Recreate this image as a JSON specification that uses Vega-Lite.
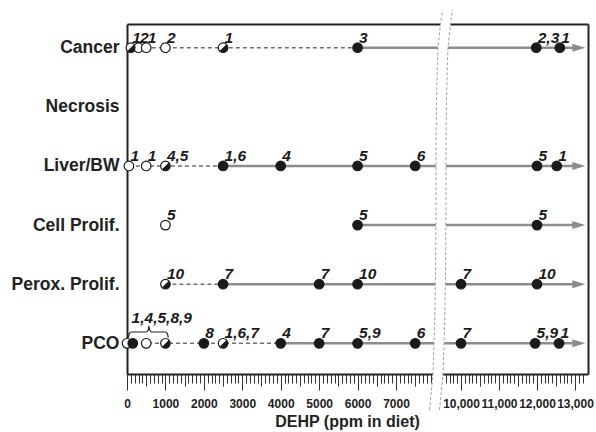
{
  "$schema": "https://vega.github.io/schema/vega-lite/v6.json",
  "width": 461,
  "height": 350,
  "autosize": {"type": "none"},
  "padding": {"left": 127, "top": 24, "right": 8, "bottom": 58},
  "background": "white",
  "config": {"view": {"stroke": null}, "font": "Liberation Sans"},
  "datasets": {
    "points": [
      {"cat": "Cancer", "row": 5, "dose": 100, "type": "half", "label": "1"},
      {"cat": "Cancer", "row": 5, "dose": 300, "type": "open", "label": "2"},
      {"cat": "Cancer", "row": 5, "dose": 500, "type": "open", "label": "1"},
      {"cat": "Cancer", "row": 5, "dose": 1000, "type": "open", "label": "2"},
      {"cat": "Cancer", "row": 5, "dose": 2500, "type": "half", "label": "1"},
      {"cat": "Cancer", "row": 5, "dose": 6000, "type": "filled", "label": "3"},
      {"cat": "Cancer", "row": 5, "dose": 11980, "type": "filled", "label": "2,3"},
      {"cat": "Cancer", "row": 5, "dose": 12600, "type": "filled", "label": "1"},
      {"cat": "Liver/BW", "row": 3, "dose": 50, "type": "open", "label": "1"},
      {"cat": "Liver/BW", "row": 3, "dose": 500, "type": "open", "label": "1"},
      {"cat": "Liver/BW", "row": 3, "dose": 1000, "type": "half", "label": "4,5"},
      {"cat": "Liver/BW", "row": 3, "dose": 2500, "type": "filled", "label": "1,6"},
      {"cat": "Liver/BW", "row": 3, "dose": 4000, "type": "filled", "label": "4"},
      {"cat": "Liver/BW", "row": 3, "dose": 6000, "type": "filled", "label": "5"},
      {"cat": "Liver/BW", "row": 3, "dose": 7500, "type": "filled", "label": "6"},
      {"cat": "Liver/BW", "row": 3, "dose": 12000, "type": "filled", "label": "5"},
      {"cat": "Liver/BW", "row": 3, "dose": 12520, "type": "filled", "label": "1"},
      {"cat": "Cell Prolif.", "row": 2, "dose": 1000, "type": "open", "label": "5"},
      {"cat": "Cell Prolif.", "row": 2, "dose": 6000, "type": "filled", "label": "5"},
      {"cat": "Cell Prolif.", "row": 2, "dose": 12000, "type": "filled", "label": "5"},
      {"cat": "Perox. Prolif.", "row": 1, "dose": 1000, "type": "half", "label": "10"},
      {"cat": "Perox. Prolif.", "row": 1, "dose": 2500, "type": "filled", "label": "7"},
      {"cat": "Perox. Prolif.", "row": 1, "dose": 5000, "type": "filled", "label": "7"},
      {"cat": "Perox. Prolif.", "row": 1, "dose": 6000, "type": "filled", "label": "10"},
      {"cat": "Perox. Prolif.", "row": 1, "dose": 10000, "type": "filled", "label": "7"},
      {"cat": "Perox. Prolif.", "row": 1, "dose": 12000, "type": "filled", "label": "10"},
      {"cat": "PCO", "row": 0, "dose": 0, "type": "open", "label": ""},
      {"cat": "PCO", "row": 0, "dose": 150, "type": "filled", "label": ""},
      {"cat": "PCO", "row": 0, "dose": 500, "type": "open", "label": ""},
      {"cat": "PCO", "row": 0, "dose": 1000, "type": "half", "label": ""},
      {"cat": "PCO", "row": 0, "dose": 2000, "type": "filled", "label": "8"},
      {"cat": "PCO", "row": 0, "dose": 2500, "type": "half", "label": "1,6,7"},
      {"cat": "PCO", "row": 0, "dose": 4000, "type": "filled", "label": "4"},
      {"cat": "PCO", "row": 0, "dose": 5000, "type": "filled", "label": "7"},
      {"cat": "PCO", "row": 0, "dose": 6000, "type": "filled", "label": "5,9"},
      {"cat": "PCO", "row": 0, "dose": 7500, "type": "filled", "label": "6"},
      {"cat": "PCO", "row": 0, "dose": 10000, "type": "filled", "label": "7"},
      {"cat": "PCO", "row": 0, "dose": 11950, "type": "filled", "label": "5,9"},
      {"cat": "PCO", "row": 0, "dose": 12580, "type": "filled", "label": "1"}
    ],
    "segments": [
      {"cat": "Cancer", "row": 5, "style": "dashed", "dose": 100},
      {"cat": "Cancer", "row": 5, "style": "dashed", "dose": 6000},
      {"cat": "Cancer", "row": 5, "style": "solid", "dose": 6000},
      {"cat": "Cancer", "row": 5, "style": "solid", "dose": 13100},
      {"cat": "Liver/BW", "row": 3, "style": "dashed", "dose": 50},
      {"cat": "Liver/BW", "row": 3, "style": "dashed", "dose": 2500},
      {"cat": "Liver/BW", "row": 3, "style": "solid", "dose": 2500},
      {"cat": "Liver/BW", "row": 3, "style": "solid", "dose": 13100},
      {"cat": "Cell Prolif.", "row": 2, "style": "solid", "dose": 6000},
      {"cat": "Cell Prolif.", "row": 2, "style": "solid", "dose": 13100},
      {"cat": "Perox. Prolif.", "row": 1, "style": "dashed", "dose": 1000},
      {"cat": "Perox. Prolif.", "row": 1, "style": "dashed", "dose": 2500},
      {"cat": "Perox. Prolif.", "row": 1, "style": "solid", "dose": 2500},
      {"cat": "Perox. Prolif.", "row": 1, "style": "solid", "dose": 13100},
      {"cat": "PCO", "row": 0, "style": "dashed", "dose": 0},
      {"cat": "PCO", "row": 0, "style": "dashed", "dose": 4000},
      {"cat": "PCO", "row": 0, "style": "solid", "dose": 4000},
      {"cat": "PCO", "row": 0, "style": "solid", "dose": 13100}
    ],
    "brace": [
      {"dose": 35, "level": 0.095},
      {"dose": 60, "level": 0.165},
      {"dose": 110, "level": 0.191},
      {"dose": 500, "level": 0.191},
      {"dose": 552, "level": 0.225},
      {"dose": 570, "level": 0.293},
      {"dose": 588, "level": 0.225},
      {"dose": 640, "level": 0.191},
      {"dose": 1000, "level": 0.191},
      {"dose": 1050, "level": 0.165},
      {"dose": 1075, "level": 0.095}
    ],
    "notes": [
      {"dose": 120, "level": 0.34, "label": "1,4,5,8,9"}
    ],
    "breakband": [
      {"level": 5.638, "left": 9513, "right": 9776},
      {"level": 5.401, "left": 9255, "right": 9724},
      {"level": 5.012, "left": 8847, "right": 9658},
      {"level": 4.792, "left": 8766, "right": 9645},
      {"level": 4.115, "left": 8603, "right": 9618},
      {"level": 3.27, "left": 8521, "right": 9605},
      {"level": 2.204, "left": 8521, "right": 9605},
      {"level": 1.071, "left": 8439, "right": 9592},
      {"level": 0.225, "left": 8276, "right": 9566},
      {"level": -0.519, "left": 8032, "right": 9526},
      {"level": -0.959, "left": 7898, "right": 9255},
      {"level": -1.129, "left": 7872, "right": 9092}
    ]
  },
  "resolve": {"axis": {"x": "independent", "y": "independent"}},
  "layer": [
    {
      "data": {"name": "segments"},
      "transform": [{"filter": "datum.style === 'dashed'"}],
      "mark": {"type": "line", "color": "#707070", "strokeWidth": 1.6, "strokeDash": [4, 3]},
      "encoding": {
        "x": {"field": "dose", "type": "quantitative", "axis": null, "scale": {"domain": [0, 7950, 9500, 13342], "range": [0, 305.5, 315, 461], "nice": false, "zero": false}},
        "y": {"field": "row", "type": "quantitative", "axis": null, "scale": {"domain": [-0.519, 5.401], "nice": false, "zero": false}},
        "detail": {"field": "cat"}
      }
    },
    {
      "data": {"name": "segments"},
      "transform": [{"filter": "datum.style === 'solid'"}],
      "mark": {"type": "line", "color": "#8c8c8c", "strokeWidth": 2.4},
      "encoding": {
        "x": {"field": "dose", "type": "quantitative", "axis": null},
        "y": {"field": "row", "type": "quantitative", "axis": null},
        "detail": {"field": "cat"}
      }
    },
    {
      "data": {"name": "brace"},
      "mark": {"type": "line", "color": "#222222", "strokeWidth": 1.2, "interpolate": "monotone"},
      "encoding": {
        "x": {"field": "dose", "type": "quantitative", "axis": null},
        "y": {"field": "level", "type": "quantitative", "axis": null}
      }
    },
    {
      "data": {"name": "segments"},
      "transform": [{"filter": "datum.style === 'solid' && datum.dose === 13100"}],
      "mark": {"type": "point", "shape": "M-1,-0.62L1,0L-1,0.62Z", "filled": true, "color": "#8c8c8c", "size": 169, "opacity": 1},
      "encoding": {
        "x": {"field": "dose", "type": "quantitative", "axis": {"orient": "top", "labels": false, "ticks": false, "grid": false, "title": null, "domain": true, "domainColor": "#222222", "domainWidth": 2}},
        "y": {"field": "row", "type": "quantitative", "axis": {"orient": "right", "labels": false, "ticks": false, "grid": false, "title": null, "domain": true, "domainColor": "#222222", "domainWidth": 2}}
      }
    },
    {
      "data": {"name": "points"},
      "mark": {"type": "point", "shape": "circle", "filled": true, "size": 92, "stroke": "#1a1a1a", "strokeWidth": 1.2, "opacity": 1},
      "encoding": {
        "x": {
          "field": "dose", "type": "quantitative",
          "axis": {
            "orient": "bottom",
            "values": [0,100,200,300,400,500,600,700,800,900,1000,1100,1200,1300,1400,1500,1600,1700,1800,1900,2000,2100,2200,2300,2400,2500,2600,2700,2800,2900,3000,3100,3200,3300,3400,3500,3600,3700,3800,3900,4000,4100,4200,4300,4400,4500,4600,4700,4800,4900,5000,5100,5200,5300,5400,5500,5600,5700,5800,5900,6000,6100,6200,6300,6400,6500,6600,6700,6800,6900,7000,7100,7200,7300,7400,7500,7600,7700,7800,7900,9600,9700,9800,9900,10000,10100,10200,10300,10400,10500,10600,10700,10800,10900,11000,11100,11200,11300,11400,11500,11600,11700,11800,11900,12000,12100,12200,12300,12400,12500,12600,12700,12800,12900,13000,13100,13200],
            "labelExpr": "datum.value % 1000 === 0 ? (datum.value >= 10000 ? format(datum.value, ',') : '' + datum.value) : ''",
            "labelOverlap": false,
            "labelFlush": false,
            "labelBound": false,
            "labelFont": "Liberation Sans",
            "labelFontSize": 12,
            "labelFontWeight": "bold",
            "labelColor": "#222222",
            "labelBaseline": "alphabetic",
            "labelPadding": 17,
            "tickColor": "#333333",
            "tickWidth": 1,
            "tickSize": {"condition": [{"test": "datum.value % 1000 === 0", "value": 16}, {"test": "datum.value % 500 === 0", "value": 12}], "value": 9},
            "grid": false,
            "domain": true,
            "domainColor": "#222222",
            "domainWidth": 2,
            "title": "DEHP (ppm in diet)",
            "titleFont": "Liberation Sans",
            "titleFontSize": 16,
            "titleFontWeight": "bold",
            "titleColor": "#222222",
            "titleX": 220,
            "titleY": 52,
            "titleAlign": "center",
            "titleBaseline": "alphabetic"
          }
        },
        "y": {
          "field": "row", "type": "quantitative",
          "axis": {
            "orient": "left",
            "values": [0, 1, 2, 3, 4, 5],
            "labelExpr": "['PCO', 'Perox. Prolif.', 'Cell Prolif.', 'Liver/BW', 'Necrosis', 'Cancer'][datum.value]",
            "ticks": false,
            "tickSize": 0,
            "labelPadding": 8,
            "labelFont": "Liberation Sans",
            "labelFontSize": 17.5,
            "labelFontWeight": "bold",
            "labelColor": "#222222",
            "labelOverlap": false,
            "labelBound": false,
            "labelFlush": false,
            "grid": false,
            "domain": true,
            "domainColor": "#222222",
            "domainWidth": 2,
            "title": null
          }
        },
        "fill": {"field": "type", "type": "nominal", "scale": {"domain": ["filled", "open", "half"], "range": ["#1a1a1a", "#ffffff", "#ffffff"]}, "legend": null}
      }
    },
    {
      "data": {"name": "points"},
      "transform": [{"filter": "datum.type === 'half'"}],
      "mark": {"type": "point", "shape": "M0.707,-0.707A1,1,0,0,1,-0.707,0.707Z", "filled": true, "color": "#1a1a1a", "size": 92, "opacity": 1},
      "encoding": {
        "x": {"field": "dose", "type": "quantitative", "axis": null},
        "y": {"field": "row", "type": "quantitative", "axis": null}
      }
    },
    {
      "data": {"name": "points"},
      "mark": {"type": "text", "align": "left", "baseline": "alphabetic", "dx": 1.5, "dy": -5, "font": "Liberation Sans", "fontSize": 15.5, "fontWeight": "bold", "fontStyle": "italic", "color": "#1a1a1a"},
      "encoding": {
        "x": {"field": "dose", "type": "quantitative", "axis": null},
        "y": {"field": "row", "type": "quantitative", "axis": null},
        "text": {"field": "label"}
      }
    },
    {
      "data": {"name": "notes"},
      "mark": {"type": "text", "align": "left", "baseline": "alphabetic", "font": "Liberation Sans", "fontSize": 15.5, "fontWeight": "bold", "fontStyle": "italic", "color": "#1a1a1a"},
      "encoding": {
        "x": {"field": "dose", "type": "quantitative", "axis": null},
        "y": {"field": "level", "type": "quantitative", "axis": null},
        "text": {"field": "label"}
      }
    },
    {
      "data": {"name": "breakband"},
      "mark": {"type": "area", "orient": "horizontal", "fill": "#ffffff", "opacity": 1},
      "encoding": {
        "y": {"field": "level", "type": "quantitative", "axis": null},
        "x": {"field": "left", "type": "quantitative", "axis": null, "stack": null},
        "x2": {"field": "right"}
      }
    },
    {
      "data": {"name": "breakband"},
      "transform": [{"fold": ["left", "right"], "as": ["edge", "xpos"]}],
      "mark": {"type": "line", "color": "#a0a0a0", "strokeWidth": 1, "strokeDash": [3, 2]},
      "encoding": {
        "x": {"field": "xpos", "type": "quantitative", "axis": null},
        "y": {"field": "level", "type": "quantitative", "axis": null},
        "detail": {"field": "edge"},
        "order": {"field": "level", "type": "quantitative"}
      }
    }
  ]
}
